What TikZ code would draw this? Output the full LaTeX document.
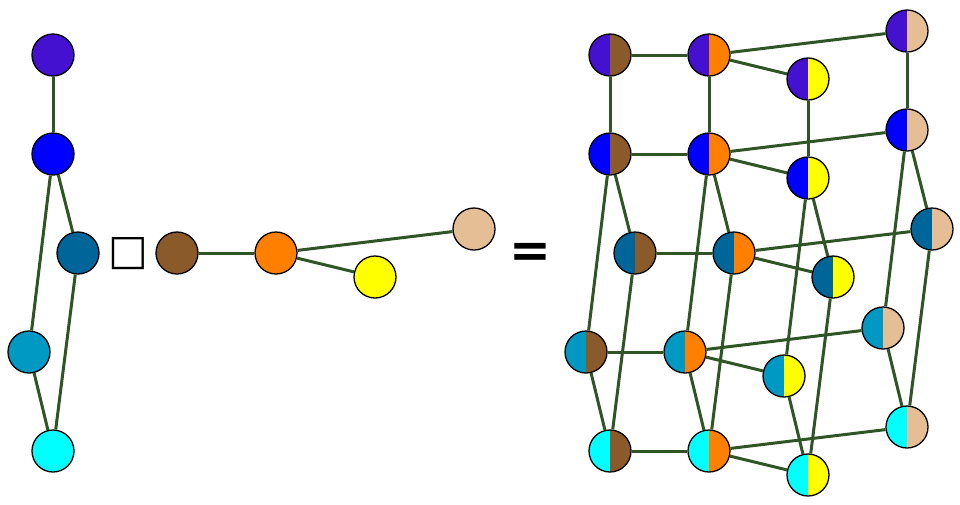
\documentclass[tikz,border=0pt]{standalone}
\usepackage{fontspec}
\newfontfamily\dejavu{DejaVu Sans}
\newfontfamily\dejavub{DejaVu Sans Bold}
\definecolor{cA}{HTML}{4411D0}
\definecolor{cB}{HTML}{0000FF}
\definecolor{cC}{HTML}{006699}
\definecolor{cD}{HTML}{0099C4}
\definecolor{cE}{HTML}{00FFFF}
\definecolor{cP}{HTML}{8B5A2B}
\definecolor{cQ}{HTML}{FF7F00}
\definecolor{cR}{HTML}{FFFF00}
\definecolor{cS}{HTML}{E6BE96}
\definecolor{edgec}{HTML}{2F5526}
\begin{document}
\begin{tikzpicture}[x=1pt,y=-1pt,
  vtx/.style={circle,draw=black,line width=1.3pt,minimum size=42pt,inner sep=0pt},
  prod/.style 2 args={vtx,path picture={
     \fill[#1] (path picture bounding box.south west) rectangle (path picture bounding box.north);
     \fill[#2] (path picture bounding box.south east) rectangle (path picture bounding box.north);}},
  edge/.style={draw=edgec,line width=3pt}]
\useasboundingbox (0,0) rectangle (960,504);
% left graph
\node[vtx,fill=cA] (A) at (53,55) {};
\node[vtx,fill=cB] (B) at (53,154) {};
\node[vtx,fill=cC] (C) at (78,253) {};
\node[vtx,fill=cD] (D) at (29,352) {};
\node[vtx,fill=cE] (E) at (53,451) {};
\foreach \u/\v in {A/B,B/C,B/D,C/E,D/E} \draw[edge] (\u) -- (\v);
% operator
\node[inner sep=0pt] (box) at (128,254) {\fontsize{42}{42}\selectfont\dejavub □};
% right graph
\node[vtx,fill=cP] (P) at (177,253) {};
\node[vtx,fill=cQ] (Q) at (276,253) {};
\node[vtx,fill=cR] (R) at (375,277) {};
\node[vtx,fill=cS] (S) at (474,229) {};
\foreach \u/\v in {P/Q,Q/R,Q/S} \draw[edge] (\u) -- (\v);
% equals
\node[inner sep=0pt] (eq) at (530,255) {\fontsize{50}{50}\selectfont\dejavub =};
% product
\foreach \g/\gx/\gy/\gc in {A/53/55/cA,B/53/154/cB,C/78/253/cC,D/29/352/cD,E/53/451/cE}
  \foreach \h/\hx/\hy/\hc in {P/0/0/cP,Q/99/0/cQ,R/198/24/cR,S/297/-24/cS}
    \node[prod={\gc}{\hc}] (\g\h) at ({\gx+557+\hx},{\gy+\hy}) {};
\foreach \h in {P,Q,R,S}
  \foreach \u/\v in {A/B,B/C,B/D,C/E,D/E} \draw[edge] (\u\h) -- (\v\h);
\foreach \g in {A,B,C,D,E}
  \foreach \u/\v in {P/Q,Q/R,Q/S} \draw[edge] (\g\u) -- (\g\v);
\end{tikzpicture}
\end{document}
